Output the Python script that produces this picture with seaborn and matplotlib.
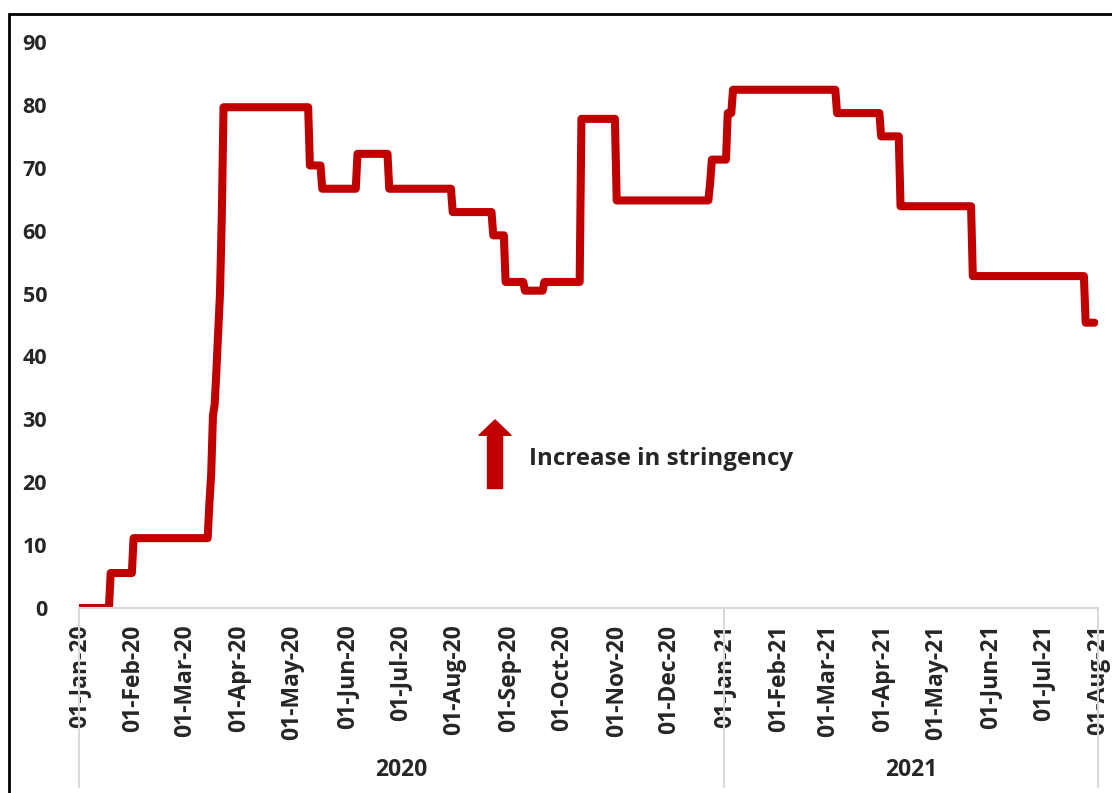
import pandas as pd
import matplotlib
matplotlib.use('Agg')
import matplotlib.pyplot as plt
from matplotlib.patches import Rectangle
import seaborn as sns

# Stringency index, read as flat segments: first day, last day, value
seg_start = [
    '2020-01-01', '2020-01-19', '2020-02-01', '2020-03-15', '2020-03-16',
    '2020-03-17', '2020-03-18', '2020-03-19', '2020-03-20', '2020-03-21',
    '2020-03-22', '2020-03-23', '2020-05-11', '2020-05-18', '2020-06-07',
    '2020-06-25', '2020-07-31', '2020-08-23', '2020-08-30', '2020-09-10',
    '2020-09-21', '2020-10-12', '2020-11-01', '2020-12-24', '2020-12-25',
    '2021-01-03', '2021-01-06', '2021-03-06', '2021-03-31', '2021-04-11',
    '2021-05-22', '2021-07-25',
]
seg_end = [
    '2020-01-18', '2020-01-31', '2020-03-14', '2020-03-15', '2020-03-16',
    '2020-03-17', '2020-03-18', '2020-03-19', '2020-03-20', '2020-03-21',
    '2020-03-22', '2020-05-10', '2020-05-17', '2020-06-06', '2020-06-24',
    '2020-07-30', '2020-08-22', '2020-08-29', '2020-09-09', '2020-09-20',
    '2020-10-11', '2020-10-31', '2020-12-23', '2020-12-24', '2021-01-02',
    '2021-01-05', '2021-03-05', '2021-03-30', '2021-04-10', '2021-05-21',
    '2021-07-24', '2021-07-30',
]
seg_value = [
    0, 5.56, 11.11, 16.67, 21.30,
    30.56, 32.41, 38.00, 44.00, 50.00,
    62.04, 79.63, 70.37, 66.67, 72.22,
    66.67, 62.96, 59.26, 51.85, 50.46,
    51.85, 77.78, 64.81, 67.59, 71.30,
    78.70, 82.41, 78.70, 75.00, 63.89,
    52.78, 45.37,
]

month_ticks = pd.date_range('2020-01-01', '2021-08-01', freq='MS')
year_labels = ['2020', '2021']
year_bounds = ['2020-01-01', '2021-01-01', '2021-08-01']

# Points: start and end of each flat segment
dates, values = [], []
for s, e, v in zip(seg_start, seg_end, seg_value):
    dates.append(s)
    values.append(v)
    if e != s:
        dates.append(e)
        values.append(v)
df = pd.DataFrame({'date': pd.to_datetime(dates), 'value': values})

sns.set_style('white')
plt.rcParams['font.family'] = ['Open Sans', 'DejaVu Sans']
plt.rcParams['font.weight'] = 'bold'

fig = plt.figure(figsize=(11.12, 7.93), dpi=100)
ax = fig.add_axes([0.071, 0.2333, 0.9164, 0.7137])

red = '#C00000'
grey = '#D9D9D9'

sns.lineplot(data=df, x='date', y='value', ax=ax, color=red, linewidth=5.8,
             estimator=None, sort=False,
             solid_capstyle='round', solid_joinstyle='round')

ax.set_xlim(pd.Timestamp('2020-01-01'), pd.Timestamp('2021-08-01'))
ax.set_ylim(0, 90)
ax.set_yticks(range(0, 91, 10))
ax.set_xticks(month_ticks)
ax.set_xticklabels([d.strftime('%d-%b-%y') for d in month_ticks],
                   rotation=90, fontsize=16.5, fontweight='bold')
ax.tick_params(axis='y', labelsize=15.5, length=0, pad=23)
ax.tick_params(axis='x', length=0, pad=12)
for lab in ax.get_yticklabels():
    lab.set_fontweight('bold')
ax.set_xlabel('')
ax.set_ylabel('')

for side in ['top', 'right', 'left']:
    ax.spines[side].set_visible(False)
ax.spines['bottom'].set_color(grey)
ax.spines['bottom'].set_linewidth(1.5)

# Year group separators and labels
for b in year_bounds:
    ax.axvline(pd.Timestamp(b), ymin=-0.316, ymax=0, color=grey,
               linewidth=1.5, clip_on=False)
for i, yl in enumerate(year_labels):
    mid = pd.Timestamp(year_bounds[i]) + (pd.Timestamp(year_bounds[i + 1]) - pd.Timestamp(year_bounds[i])) / 2
    ax.text(mid, -0.287, yl, transform=ax.get_xaxis_transform(),
            ha='center', va='center', fontsize=16.5, fontweight='bold')

# Annotation arrow
ax.annotate('', xy=(pd.Timestamp('2020-08-24'), 29.9),
            xytext=(pd.Timestamp('2020-08-24'), 19.0),
            arrowprops=dict(arrowstyle='simple,head_width=2.3,head_length=1.1,tail_width=1.08',
                            color=red, shrinkA=0, shrinkB=0, mutation_scale=10))
ax.text(pd.Timestamp('2020-09-12'), 23.7, 'Increase in stringency',
        fontsize=17.4, fontweight='bold', va='center', ha='left')

# Outer frame
fig.add_artist(Rectangle((9 / 1112, -0.05), 1.2, 1.05 - 14 / 793,
                         transform=fig.transFigure, fill=False,
                         edgecolor='black', linewidth=2))

plt.savefig('out.png', dpi=100)
